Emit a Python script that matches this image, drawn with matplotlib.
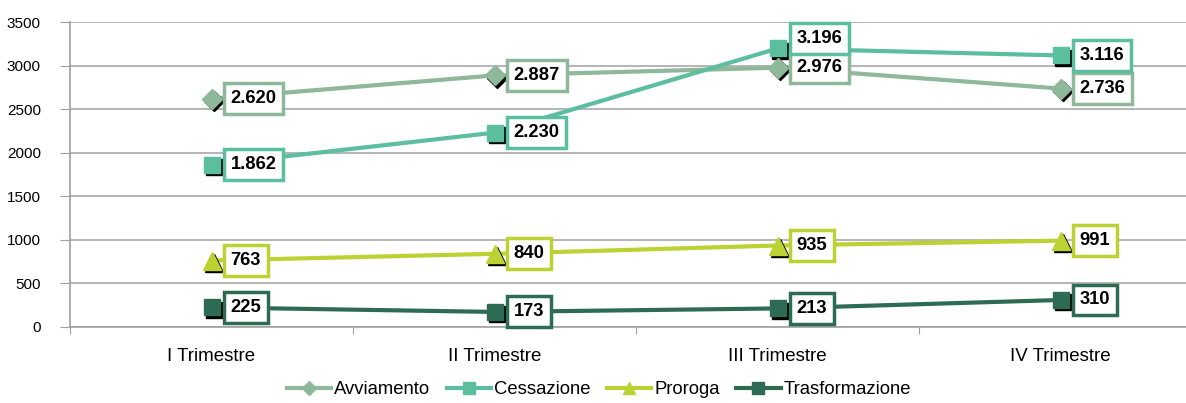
import matplotlib
matplotlib.use('Agg')
import matplotlib.pyplot as plt
from matplotlib.transforms import offset_copy

plt.rcParams['font.family'] = ['Liberation Sans', 'DejaVu Sans']

# dati
trimestri = ['I Trimestre', 'II Trimestre', 'III Trimestre', 'IV Trimestre']
avviamento = [2620, 2887, 2976, 2736]
cessazione = [1862, 2230, 3196, 3116]
proroga = [763, 840, 935, 991]
trasformazione = [225, 173, 213, 310]
etichette = ['2.620', '2.887', '2.976', '2.736']
etichette_c = ['1.862', '2.230', '3.196', '3.116']

serie = [
    ('Avviamento', avviamento, etichette, '#8fb89a', 'D', 10),
    ('Cessazione', cessazione, etichette_c, '#5bbe9f', 's', 12),
    ('Proroga', proroga, [str(v) for v in proroga], '#bcd233', '^', 13),
    ('Trasformazione', trasformazione, [str(v) for v in trasformazione], '#2e6b55', 's', 12),
]

fig = plt.figure(figsize=(11.86, 4.03), dpi=100)
ax = fig.add_axes([70 / 1186, 76 / 403, 1132 / 1186, 305 / 403])

x = [0.5, 1.5, 2.5, 3.5]
# ombra nera dei marker, spostata di qualche pixel
tr_ombra = offset_copy(ax.transData, fig=fig, x=2.5, y=-2.5, units='dots')

for nome, valori, testi, colore, marker, ms in serie:
    ax.plot(x, valori, color=colore, lw=3, zorder=3)
    ax.plot(x, valori, linestyle='none', marker=marker, markersize=ms, color='black',
            transform=tr_ombra, zorder=3.5)
    ax.plot(x, valori, linestyle='none', marker=marker, markersize=ms, color=colore, zorder=4)
    # per la legenda
    ax.plot([], [], color=colore, lw=3, marker=marker, markersize=ms * 0.7, label=nome)
    for i, (xi, v, t) in enumerate(zip(x, valori, testi)):
        dy = 0
        if nome == 'Cessazione' and i == 2:
            dy = 10
        ax.annotate(t, (xi, v), xytext=(19, dy), textcoords='offset pixels',
                    ha='left', va='center', fontsize=13.2, fontweight='bold',
                    bbox=dict(boxstyle='square,pad=0.38', fc='white', ec=colore, lw=2.5),
                    zorder=5)

ax.set_xlim(0, 4)
ax.set_ylim(0, 3500)
ax.set_yticks(range(0, 3501, 500))
ax.set_xticks([0, 1, 2, 3, 4])
ax.set_xticklabels([])
ax.set_xticks(x, minor=True)
ax.set_xticklabels(trimestri, minor=True, fontsize=13.5)
ax.tick_params(axis='x', which='minor', length=0, pad=15)
ax.tick_params(axis='x', which='major', length=5, color='#a0a0a0', direction='out')
ax.tick_params(axis='y', length=7, color='#a0a0a0', labelsize=11, pad=14)

ax.grid(axis='y', color='#a8a8a8', lw=1.2)
ax.set_axisbelow(True)
for s in ['top', 'right']:
    ax.spines[s].set_visible(False)
for s in ['left', 'bottom']:
    ax.spines[s].set_color('#a0a0a0')
    ax.spines[s].set_linewidth(1.2)

fig.legend(loc='lower center', bbox_to_anchor=(0.505, -0.03), ncol=4, frameon=False,
           fontsize=13.3, handlelength=2.4, columnspacing=0.9, handletextpad=0.15)

fig.savefig('out.png', dpi=100)
